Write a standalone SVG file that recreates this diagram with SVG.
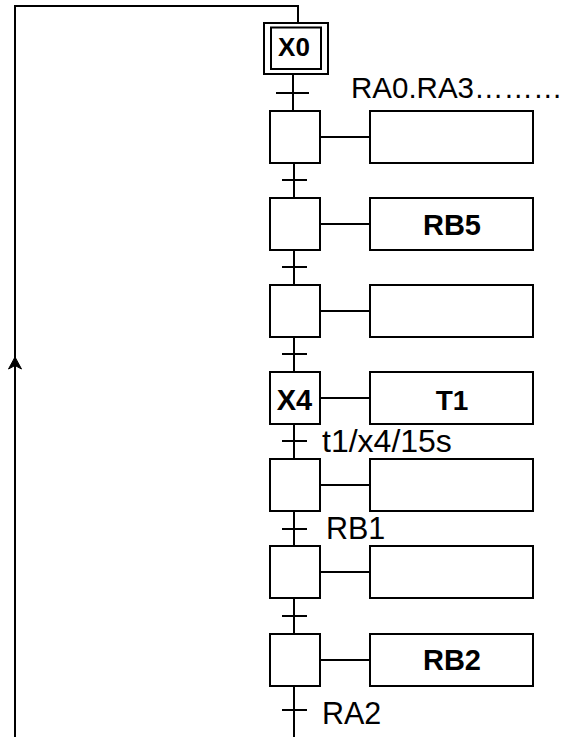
<svg xmlns="http://www.w3.org/2000/svg" width="568" height="737" viewBox="0 0 568 737">
<defs>
<style>
.ln{fill:none;stroke:#000;stroke-width:2}
.box{fill:#fff;stroke:#000;stroke-width:2}
.b{font-family:"Liberation Sans",Arial,Helvetica,sans-serif;font-weight:bold;text-anchor:middle;fill:#000}
.t{font-family:"Liberation Sans",Arial,Helvetica,sans-serif;fill:#000}
</style>
</defs>
<rect width="568" height="737" fill="#fff"/>
<g id="connectors">
<path class="ln" d="M15,737 V6 H298 V23"/>
<path d="M15,357 L8.5,369 L15,365.5 L21.5,369 Z" fill="#000" stroke="#000" stroke-width="1"/>
<path class="ln" d="M293,74 V111"/>
<path class="ln" d="M294,163 V198 M294,250 V285 M294,337 V372 M294,424 V459 M294,511 V546 M294,598 V634 M294,686 V737"/>
<path class="ln" d="M276,93 H309 M282,180 H307 M282,267 H307 M282,354 H307 M282,441 H307 M282,529 H307 M282,616 H307 M282,710 H307"/>
<path class="ln" d="M320,137 H370 M320,224 H370 M320,311 H370 M320,398 H370 M320,485 H370 M320,572 H370 M320,660 H370"/>
</g>
<g id="step0">
<rect class="box" x="264" y="23" width="64" height="51"/>
<rect class="box" x="271" y="27.5" width="50" height="41.5"/>
<text class="b" x="294" y="56" font-size="26">X0</text>
</g>
<g id="step1"><rect class="box" x="270" y="111" width="50" height="52"/></g>
<g id="action1"><rect class="box" x="370" y="111" width="163" height="52"/></g>
<g id="step2"><rect class="box" x="270" y="198" width="50" height="52"/></g>
<g id="action2"><rect class="box" x="370" y="198" width="163" height="52"/><text class="b" x="452" y="235" font-size="29">RB5</text></g>
<g id="step3"><rect class="box" x="270" y="285" width="50" height="52"/></g>
<g id="action3"><rect class="box" x="370" y="285" width="163" height="52"/></g>
<g id="step4"><rect class="box" x="270" y="372" width="50" height="52"/><text class="b" x="294.5" y="410" font-size="29">X4</text></g>
<g id="action4"><rect class="box" x="370" y="372" width="163" height="52"/><text class="b" x="452" y="410" font-size="28">T1</text></g>
<g id="step5"><rect class="box" x="270" y="459" width="50" height="52"/></g>
<g id="action5"><rect class="box" x="370" y="459" width="163" height="52"/></g>
<g id="step6"><rect class="box" x="270" y="546" width="50" height="52"/></g>
<g id="action6"><rect class="box" x="370" y="546" width="163" height="52"/></g>
<g id="step7"><rect class="box" x="270" y="634" width="50" height="52"/></g>
<g id="action7"><rect class="box" x="370" y="634" width="163" height="52"/><text class="b" x="452" y="670" font-size="29">RB2</text></g>
<g id="labels">
<text class="t" x="351" y="98" font-size="29.5">RA0.RA3………</text>
<text class="t" x="322" y="452" font-size="32">t1/x4/15s</text>
<text class="t" x="326" y="539" font-size="30.5">RB1</text>
<text class="t" x="322" y="724" font-size="30.5">RA2</text>
</g>
</svg>
